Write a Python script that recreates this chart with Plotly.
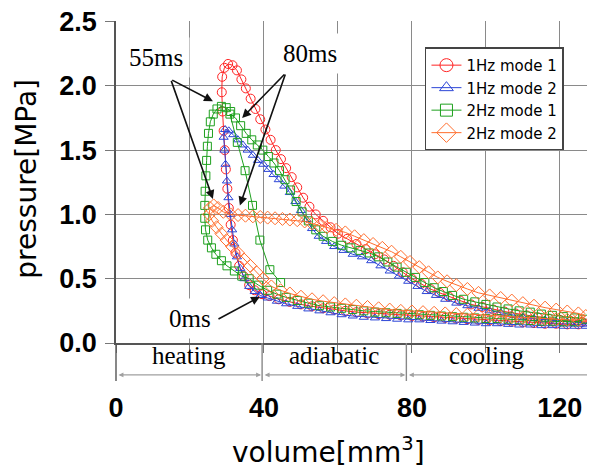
import plotly.graph_objects as go

# ---------------- data ----------------
SERIES_NAMES = ["1Hz mode 1", "1Hz mode 2", "2Hz mode 1", "2Hz mode 2"]

RED_V = [39.5, 37.5, 36, 34.5, 33.3, 32.3, 31.6, 31, 30.5, 30.1, 29.7, 29.4, 29.1, 28.8, 28.6, 28.7,
         29.3, 30.3, 31.5, 32.7, 33.9, 35.1, 36.4, 37.7, 39, 40.4, 41.8, 43.2, 44.6, 46, 47.5, 49,
         50.6, 52.3, 54, 56, 58, 60, 62.5, 65, 67.5, 70, 72.5, 75, 77.5, 80, 82.5, 85, 87.5, 90, 93,
         96, 99, 102, 105, 108, 111, 114, 117, 120, 123, 126, 128,
         125, 122, 119, 116, 113, 110, 107, 104, 101, 98, 95, 92, 89, 86, 83, 80, 77, 74, 71, 68,
         65, 62, 59, 56, 53, 50, 47, 44, 41.5, 39.5]
RED_P = [0.38, 0.41, 0.45, 0.52, 0.6, 0.7, 0.8, 0.92, 1.05, 1.2, 1.35, 1.5, 1.65, 1.8, 1.95, 2.07,
         2.14, 2.17, 2.16, 2.12, 2.05, 1.98, 1.9, 1.82, 1.74, 1.66, 1.58, 1.5, 1.43, 1.36, 1.29, 1.21,
         1.13, 1.06, 1.0, 0.95, 0.9, 0.85, 0.81, 0.77, 0.73, 0.69, 0.65, 0.6, 0.55, 0.5, 0.46, 0.42,
         0.39, 0.36, 0.33, 0.3, 0.28, 0.26, 0.245, 0.23, 0.215, 0.2, 0.19, 0.18, 0.17, 0.165, 0.16,
         0.145, 0.145, 0.15, 0.15, 0.155, 0.16, 0.165, 0.17, 0.175, 0.18, 0.185, 0.19, 0.195, 0.2,
         0.205, 0.21, 0.215, 0.22, 0.225, 0.23, 0.24, 0.25, 0.26, 0.27, 0.285, 0.3, 0.32, 0.34,
         0.365, 0.38]

BLUE_V = [39, 37.5, 36, 34.7, 33.6, 32.7, 32, 31.4, 30.9, 30.4, 30, 29.6, 29.3, 29.1, 29.5, 30.5,
          31.7, 33, 34.3, 35.6, 37, 38.4, 39.8, 41.2, 42.6, 44, 45.5, 47, 48.5, 50, 51.5, 53, 54.8,
          56.8, 59, 61.5, 64, 66.5, 69, 71.5, 74, 76.5, 79, 81.5, 84, 86.5, 89, 92, 95, 98, 101,
          104, 107, 110, 113, 116, 119, 122, 125, 128, 130,
          127, 124, 121, 118, 115, 112, 109, 106, 103, 100, 97, 94, 91, 88, 85, 82, 79, 76, 73, 70,
          67, 64, 61, 58, 55, 52, 49, 46, 43.5, 41, 39]
BLUE_P = [0.37, 0.4, 0.44, 0.5, 0.58, 0.67, 0.77, 0.88, 1.0, 1.13, 1.26, 1.39, 1.5, 1.6, 1.66, 1.65,
          1.62, 1.58, 1.54, 1.5, 1.46, 1.42, 1.39, 1.35, 1.31, 1.27, 1.22, 1.17, 1.1, 1.03, 0.96,
          0.89, 0.83, 0.79, 0.75, 0.72, 0.69, 0.67, 0.64, 0.6, 0.56, 0.52, 0.48, 0.44, 0.4, 0.37,
          0.34, 0.31, 0.29, 0.27, 0.25, 0.235, 0.22, 0.2, 0.19, 0.18, 0.17, 0.165, 0.16, 0.155, 0.15,
          0.13, 0.13, 0.13, 0.135, 0.135, 0.14, 0.14, 0.145, 0.15, 0.15, 0.155, 0.16, 0.165, 0.17,
          0.175, 0.18, 0.18, 0.185, 0.19, 0.195, 0.2, 0.21, 0.22, 0.235, 0.25, 0.265, 0.285, 0.305,
          0.325, 0.35, 0.37]

GREEN_V = [44.5, 41.6, 38.9, 36.9, 34.9, 32.8, 30.8,
           32.3, 33.7, 35.2, 36.7, 38.2, 39.7, 41.2, 42.7, 44.2, 45.7, 47.2, 48.7, 50.3, 52, 54, 56,
           58.5, 61, 63.5, 66, 68.5, 71, 73.5, 76, 78.5, 81, 83.5, 86, 88.5, 91, 94, 97, 100, 103,
           106, 109, 112, 115, 118, 121, 124, 127,
           124, 121, 118, 115, 112, 109, 106, 103, 100, 97, 94, 91, 88, 85, 82, 79, 76, 73, 70, 67,
           64, 61, 58, 55, 52, 49, 46, 43.5, 41, 38.5,
           36, 34, 32, 30, 28.5, 27, 25.8, 24.8, 24.2, 24, 24, 24.1, 24.3, 24.5, 24.7, 25, 25.5, 26.3,
           27.3, 28.5, 29.8, 31]
GREEN_P = [0.47, 0.57, 0.8, 1.07, 1.34, 1.56, 1.78,
           1.75, 1.69, 1.63, 1.58, 1.54, 1.5, 1.45, 1.4, 1.34, 1.27, 1.19, 1.1, 1.02, 0.95, 0.88,
           0.83, 0.79, 0.76, 0.74, 0.72, 0.7, 0.67, 0.63, 0.59, 0.55, 0.51, 0.47, 0.43, 0.4, 0.37,
           0.34, 0.32, 0.3, 0.28, 0.265, 0.25, 0.24, 0.225, 0.215, 0.205, 0.195, 0.185,
           0.165, 0.165, 0.17, 0.17, 0.175, 0.18, 0.185, 0.19, 0.19, 0.195, 0.2, 0.205, 0.21, 0.215,
           0.22, 0.225, 0.23, 0.235, 0.24, 0.25, 0.26, 0.27, 0.28, 0.29, 0.31, 0.33, 0.355, 0.38,
           0.41, 0.45,
           0.5, 0.52, 0.56, 0.6, 0.64, 0.69, 0.74, 0.8, 0.88, 0.97, 1.07, 1.18, 1.3, 1.42, 1.53, 1.63,
           1.72, 1.78, 1.82, 1.84, 1.83, 1.8]

ORANGE_V = [39.7, 38, 36.3, 34.6, 33, 31.4, 29.9, 28.5, 27.2, 26, 25.2, 25.4, 26.4, 27.6, 29, 31,
            33, 35, 37, 39, 41, 43, 45, 47, 49, 51, 53, 55, 57, 59.5, 62, 64.5, 67, 69.5, 72, 74.5,
            77, 79.5, 82, 84.5, 87, 89.5, 92, 95, 98, 101, 104, 107, 110, 113, 116, 119, 122, 125, 127,
            125, 122, 119, 116, 113, 110, 107, 104, 101, 98, 95, 92, 89, 86, 83, 80, 77, 74, 71, 68,
            65, 62, 59, 56, 53, 50, 47, 44.5, 42, 39.7]
ORANGE_P = [0.5, 0.55, 0.6, 0.65, 0.7, 0.75, 0.8, 0.85, 0.9, 0.95, 1.0, 1.05, 1.07, 1.05, 1.02, 1.0,
            0.995, 0.99, 0.985, 0.98, 0.975, 0.97, 0.965, 0.96, 0.955, 0.945, 0.93, 0.915, 0.9, 0.88,
            0.86, 0.83, 0.8, 0.77, 0.74, 0.71, 0.67, 0.63, 0.59, 0.55, 0.51, 0.48, 0.45, 0.42, 0.39,
            0.37, 0.35, 0.33, 0.31, 0.29, 0.275, 0.26, 0.245, 0.23, 0.21,
            0.18, 0.18, 0.185, 0.185, 0.19, 0.195, 0.2, 0.205, 0.21, 0.215, 0.22, 0.225, 0.23, 0.235,
            0.24, 0.245, 0.25, 0.26, 0.27, 0.28, 0.29, 0.3, 0.31, 0.325, 0.34, 0.36, 0.385, 0.41,
            0.44, 0.5]

X_TICKS = [0, 20, 40, 60, 80, 100, 120]
X_TICK_TEXT = ["0", "", "40", "", "80", "", "120"]
Y_TICKS = [0.0, 0.5, 1.0, 1.5, 2.0, 2.5]
Y_TICK_TEXT = ["0.0", "0.5", "1.0", "1.5", "2.0", "2.5"]
X_MAX = 129.5
Y_MAX = 2.5

PHASE_NAMES = ["heating", "adiabatic", "cooling"]
PHASE_EDGES = [0, 39.5, 78.5, 129.5]

# time-mark annotations: (label, [(head_x, head_y), ...])
TIME_MARKS = [
    ("55ms", [(26.2, 1.88), (26.2, 1.12)]),
    ("80ms", [(34.1, 1.75), (33.5, 1.07)]),
    ("0ms", [(38.9, 0.36)]),
]

# ---------------- styling ----------------
COLORS = ["rgb(255,35,35)", "rgb(45,70,215)", "rgb(30,160,30)", "rgb(255,110,45)"]
SYMBOLS = ["circle-open", "triangle-up-open", "square-open", "diamond-open"]
SIZES = [9, 8, 8, 10]
LEG_SIZES = [13, 12, 12, 15]

series = [(RED_V, RED_P), (BLUE_V, BLUE_P), (GREEN_V, GREEN_P), (ORANGE_V, ORANGE_P)]

fig = go.Figure()
for (v, p), name, c, s, sz in zip(series, SERIES_NAMES, COLORS, SYMBOLS, SIZES):
    fig.add_trace(go.Scatter(
        x=v, y=p, mode="lines+markers", name=name, showlegend=False,
        line=dict(color=c, width=1),
        marker=dict(symbol=s, size=sz, color=c, line=dict(color=c, width=1)),
    ))
for name, c, s, sz in zip(SERIES_NAMES, COLORS, SYMBOLS, LEG_SIZES):
    fig.add_trace(go.Scatter(
        x=[None], y=[None], mode="lines+markers", name=name,
        line=dict(color=c, width=1),
        marker=dict(symbol=s, size=sz, color=c, line=dict(color=c, width=1)),
    ))

SERIF = "Liberation Serif, Times New Roman, serif"
SANS = "Liberation Sans, Arial, sans-serif"
WIDE = "DejaVu Sans, Verdana, sans-serif"

# time labels with white boxes (cover gridlines)
label_pos = {"55ms": (10.8, 2.22), "80ms": (52.4, 2.25), "0ms": (20.0, 0.19)}
for label, heads in TIME_MARKS:
    lx, ly = label_pos[label]
    fig.add_annotation(x=lx, y=ly, xref="x", yref="y", text=label, showarrow=False,
                       xanchor="center", yanchor="middle",
                       font=dict(family=SERIF, size=25, color="black"),
                       bgcolor="white", borderpad=6)

tails = {"55ms": (14.8, 2.05), "80ms": (45.9, 2.1), "0ms": (27.3, 0.18)}
for label, heads in TIME_MARKS:
    tx, ty = tails[label]
    for hx, hy in heads:
        fig.add_annotation(x=hx, y=hy, xref="x", yref="y", ax=tx, ay=ty, axref="x", ayref="y",
                           text="", showarrow=True, arrowhead=2, arrowsize=1.1,
                           arrowwidth=1.6, arrowcolor="#111")

# phase brackets below the axis
BR_Y = -0.099
for i, name in enumerate(PHASE_NAMES):
    a, b = PHASE_EDGES[i], PHASE_EDGES[i + 1]
    fig.add_annotation(x=b, y=BR_Y, xref="x", yref="paper", ax=a, ay=0, axref="x", ayref="pixel",
                       text="", showarrow=True, arrowhead=2, arrowside="end+start",
                       arrowsize=0.9, arrowwidth=1.1, arrowcolor="#a0a0a0",
                       standoff=1, startstandoff=1)
    mid = (a + min(b, 122)) / 2 if i == 2 else (a + b) / 2
    fig.add_annotation(x=mid, y=-0.04, xref="x", yref="paper", text=name, showarrow=False,
                       xanchor="center", yanchor="middle",
                       font=dict(family=SERIF, size=25, color="black"))
for e in PHASE_EDGES[:3]:
    fig.add_shape(type="line", xref="paper", yref="paper", x0=e / X_MAX, x1=e / X_MAX,
                  y0=0, y1=-0.118, line=dict(color="#555" if e == 0 else "#888", width=1.4))

# axis titles
fig.add_annotation(x=0.443, y=-0.335, xref="paper", yref="paper",
                   text="volume[mm<sup>3</sup>]", showarrow=False,
                   xanchor="center", yanchor="middle",
                   font=dict(family=WIDE, size=28, color="black"))
fig.add_annotation(x=-0.186, y=0.51, xref="paper", yref="paper", text="pressure[MPa]",
                   textangle=-90, showarrow=False, xanchor="center", yanchor="middle",
                   font=dict(family=WIDE, size=28, color="black"))

# the page body adds an 8 px offset, so the figure is sized to the remaining window
fig.update_layout(
    width=587, height=462,
    margin=dict(l=108, r=0, t=13, b=127, autoexpand=False),
    paper_bgcolor="white", plot_bgcolor="white",
    showlegend=True,
    legend=dict(x=0.645, y=0.918, xanchor="left", yanchor="top",
                bgcolor="white", bordercolor="#444", borderwidth=1.5,
                font=dict(family=WIDE, size=15, color="black"),
                tracegroupgap=0, itemwidth=30),
    xaxis=dict(range=[0, X_MAX], tickvals=X_TICKS, ticktext=X_TICK_TEXT,
               showgrid=True, gridcolor="#8a8a8a", gridwidth=1.3, zeroline=False,
               showline=True, linecolor="#555", linewidth=1.5,
               ticks="outside", ticklen=8, tickcolor="#777", tickwidth=1.3,
               ticklabelstandoff=32, ticklabeloverflow="allow",
               tickfont=dict(family=SANS, size=27, color="black", weight="bold")),
    yaxis=dict(range=[0, Y_MAX + 0.004], tickvals=Y_TICKS, ticktext=Y_TICK_TEXT,
               showgrid=True, gridcolor="#8a8a8a", gridwidth=1.3, zeroline=False,
               showline=True, linecolor="#555", linewidth=1.5,
               ticks="outside", ticklen=9, tickcolor="#777", tickwidth=1.3,
               ticklabelstandoff=3, ticklabeloverflow="allow",
               tickfont=dict(family=SANS, size=27, color="black", weight="bold")),
)

fig.write_html("out.html")
